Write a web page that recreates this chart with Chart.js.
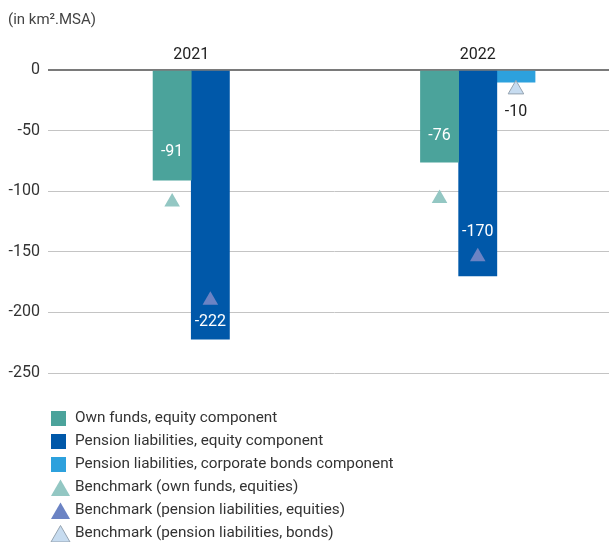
<!DOCTYPE html>
<html><head><meta charset="utf-8">
<script src="https://cdn.jsdelivr.net/npm/chart.js@4.4.1/dist/chart.umd.min.js"></script>
<style>
html,body{margin:0;padding:0;background:#fff;overflow:hidden}
#c{display:block}
</style>
</head><body>
<canvas id="c" width="631" height="542"></canvas>
<script>
// ---- data ----
const years = ['2021', '2022'];
const ownFundsEquity = [-91, -76];
const pensionEquity = [-222, -170];
const pensionBonds = [null, -10];
const benchOwnFunds = [-109, -106];
const benchPensionEquity = [-190, -154];
const benchPensionBonds = [null, -16];
const yTicks = [0, -50, -100, -150, -200, -250];
const seriesNames = [
  'Own funds, equity component',
  'Pension liabilities, equity component',
  'Pension liabilities, corporate bonds component',
  'Benchmark (own funds, equities)',
  'Benchmark (pension liabilities, equities)',
  'Benchmark (pension liabilities, bonds)'
];
const unitLabel = '(in km\u00B2.MSA)';

// ---- styles ----
const FONT = "Roboto, 'Liberation Sans', sans-serif";
const TEXT = '#333333';
const C_TEAL = '#4ba39b', C_BLUE = '#0058a9', C_LIGHT = '#2da1dd';
const T_TEAL = '#93c7c3', T_BLUE = '#6b83c4', T_LIGHT = '#c7dcf0';

// Align benchmark triangles with the bar they belong to
const alignPlugin = {
  id: 'alignBench',
  afterDatasetsUpdate(chart) {
    chart.data.datasets.forEach((ds, i) => {
      if (ds.pairWith === undefined) return;
      const bars = chart.getDatasetMeta(ds.pairWith).data;
      chart.getDatasetMeta(i).data.forEach((pt, k) => {
        if (bars[k]) pt.x = bars[k].x;
      });
    });
  }
};

// Value labels on bars
const barLabelPlugin = {
  id: 'barLabels',
  afterDatasetsDraw(chart, args, opts) {
    const ctx = chart.ctx;
    ctx.save();
    ctx.font = opts.font;
    ctx.textAlign = 'center';
    ctx.textBaseline = 'middle';
    chart.data.datasets.forEach((ds, i) => {
      if (ds.type !== 'bar') return;
      chart.getDatasetMeta(i).data.forEach((bar, k) => {
        const v = ds.data[k];
        if (v === null || v === undefined) return;
        ctx.fillStyle = opts.colors[i][k];
        ctx.fillText(String(v), bar.x, bar.y + opts.offsets[i][k]);
      });
    });
    ctx.restore();
  }
};

// Single-column legend below the chart
const legendPlugin = {
  id: 'columnLegend',
  afterDraw(chart, args, opts) {
    const ctx = chart.ctx;
    ctx.save();
    ctx.font = opts.font;
    ctx.textBaseline = 'middle';
    ctx.textAlign = 'left';
    chart.data.datasets.forEach((ds, i) => {
      const y = opts.top + i * opts.step;
      if (ds.type === 'bar') {
        ctx.fillStyle = ds.backgroundColor;
        ctx.fillRect(opts.boxX, y - opts.box / 2, opts.box, opts.box);
      } else {
        const st = {pointStyle: 'triangle', radius: opts.triR, borderWidth: ds.pointBorderWidth || 0, rotation: 0};
        ctx.fillStyle = ds.pointBackgroundColor;
        ctx.strokeStyle = ds.pointBorderColor || ds.pointBackgroundColor;
        ctx.lineWidth = ds.pointBorderWidth || 0;
        Chart.helpers.drawPoint(ctx, st, opts.boxX + opts.box / 2 + 2, y + 3);
      }
      ctx.fillStyle = TEXT;
      ctx.fillText(ds.label, opts.textX, y);
    });
    ctx.restore();
  }
};

function build() {
  const ctx = document.getElementById('c');
  new Chart(ctx, {
    data: {
      labels: years,
      datasets: [
        {type: 'bar', label: seriesNames[0], data: ownFundsEquity, backgroundColor: C_TEAL, order: 1},
        {type: 'bar', label: seriesNames[1], data: pensionEquity, backgroundColor: C_BLUE, order: 1},
        {type: 'bar', label: seriesNames[2], data: pensionBonds, backgroundColor: C_LIGHT, order: 1},
        {type: 'line', label: seriesNames[3], data: benchOwnFunds, showLine: false, pairWith: 0,
         pointStyle: 'triangle', pointRadius: 9, pointBackgroundColor: T_TEAL, pointBorderWidth: 0, order: 0},
        {type: 'line', label: seriesNames[4], data: benchPensionEquity, showLine: false, pairWith: 1,
         pointStyle: 'triangle', pointRadius: 9, pointBackgroundColor: T_BLUE, pointBorderWidth: 0, order: 0},
        {type: 'line', label: seriesNames[5], data: benchPensionBonds, showLine: false, pairWith: 2,
         pointStyle: 'triangle', pointRadius: 9, pointBackgroundColor: T_LIGHT, pointBorderColor: '#95a3b0', pointBorderWidth: 1, order: 0}
      ]
    },
    options: {
      responsive: false,
      animation: false,
      devicePixelRatio: 1,
      events: [],
      layout: {padding: {left: 8, right: 0, top: 0, bottom: 169}},
      datasets: {bar: {barThickness: 38.2, skipNull: true}},
      scales: {
        x: {
          type: 'category',
          position: 'top',
          grid: {display: false, drawTicks: false},
          border: {display: false},
          ticks: {font: {family: FONT, size: 16}, color: '#222', padding: 5.5},
          afterFit(s) { s.height = 30; }
        },
        y: {
          min: -250, max: 0,
          afterBuildTicks(s) { s.ticks = yTicks.map(v => ({value: v})); },
          ticks: {font: {family: FONT, size: 16}, color: TEXT, padding: 8, callback: v => String(v)},
          grid: {
            drawTicks: false,
            color: c => c.tick && c.tick.value === 0 ? '#7a7a7a' : '#c4c4c4',
            lineWidth: c => c.tick && c.tick.value === 0 ? 2 : 1
          },
          border: {display: false},
          afterFit(s) { s.width = 40; }
        }
      },
      plugins: {
        legend: {display: false},
        tooltip: {enabled: false},
        title: {
          display: true, text: unitLabel, align: 'start', color: '#444',
          font: {family: FONT, size: 15, weight: 'normal'},
          padding: {top: 11, bottom: 11}
        },
        barLabels: {
          font: "16px " + FONT,
          offsets: [[-28, -26], [-17, -44], [0, 30]],
          colors: [['#fff', '#fff'], ['#fff', '#fff'], ['#222', '#222']]
        },
        columnLegend: {
          font: "15.3px " + FONT, top: 418.5, step: 23, boxX: 51, box: 15, textX: 75, triR: 11
        }
      }
    },
    plugins: [alignPlugin, barLabelPlugin, legendPlugin]
  });
}

if (document.fonts && document.fonts.load) {
  document.fonts.load("16px Roboto").then(build, build);
} else { build(); }
</script>
</body></html>
